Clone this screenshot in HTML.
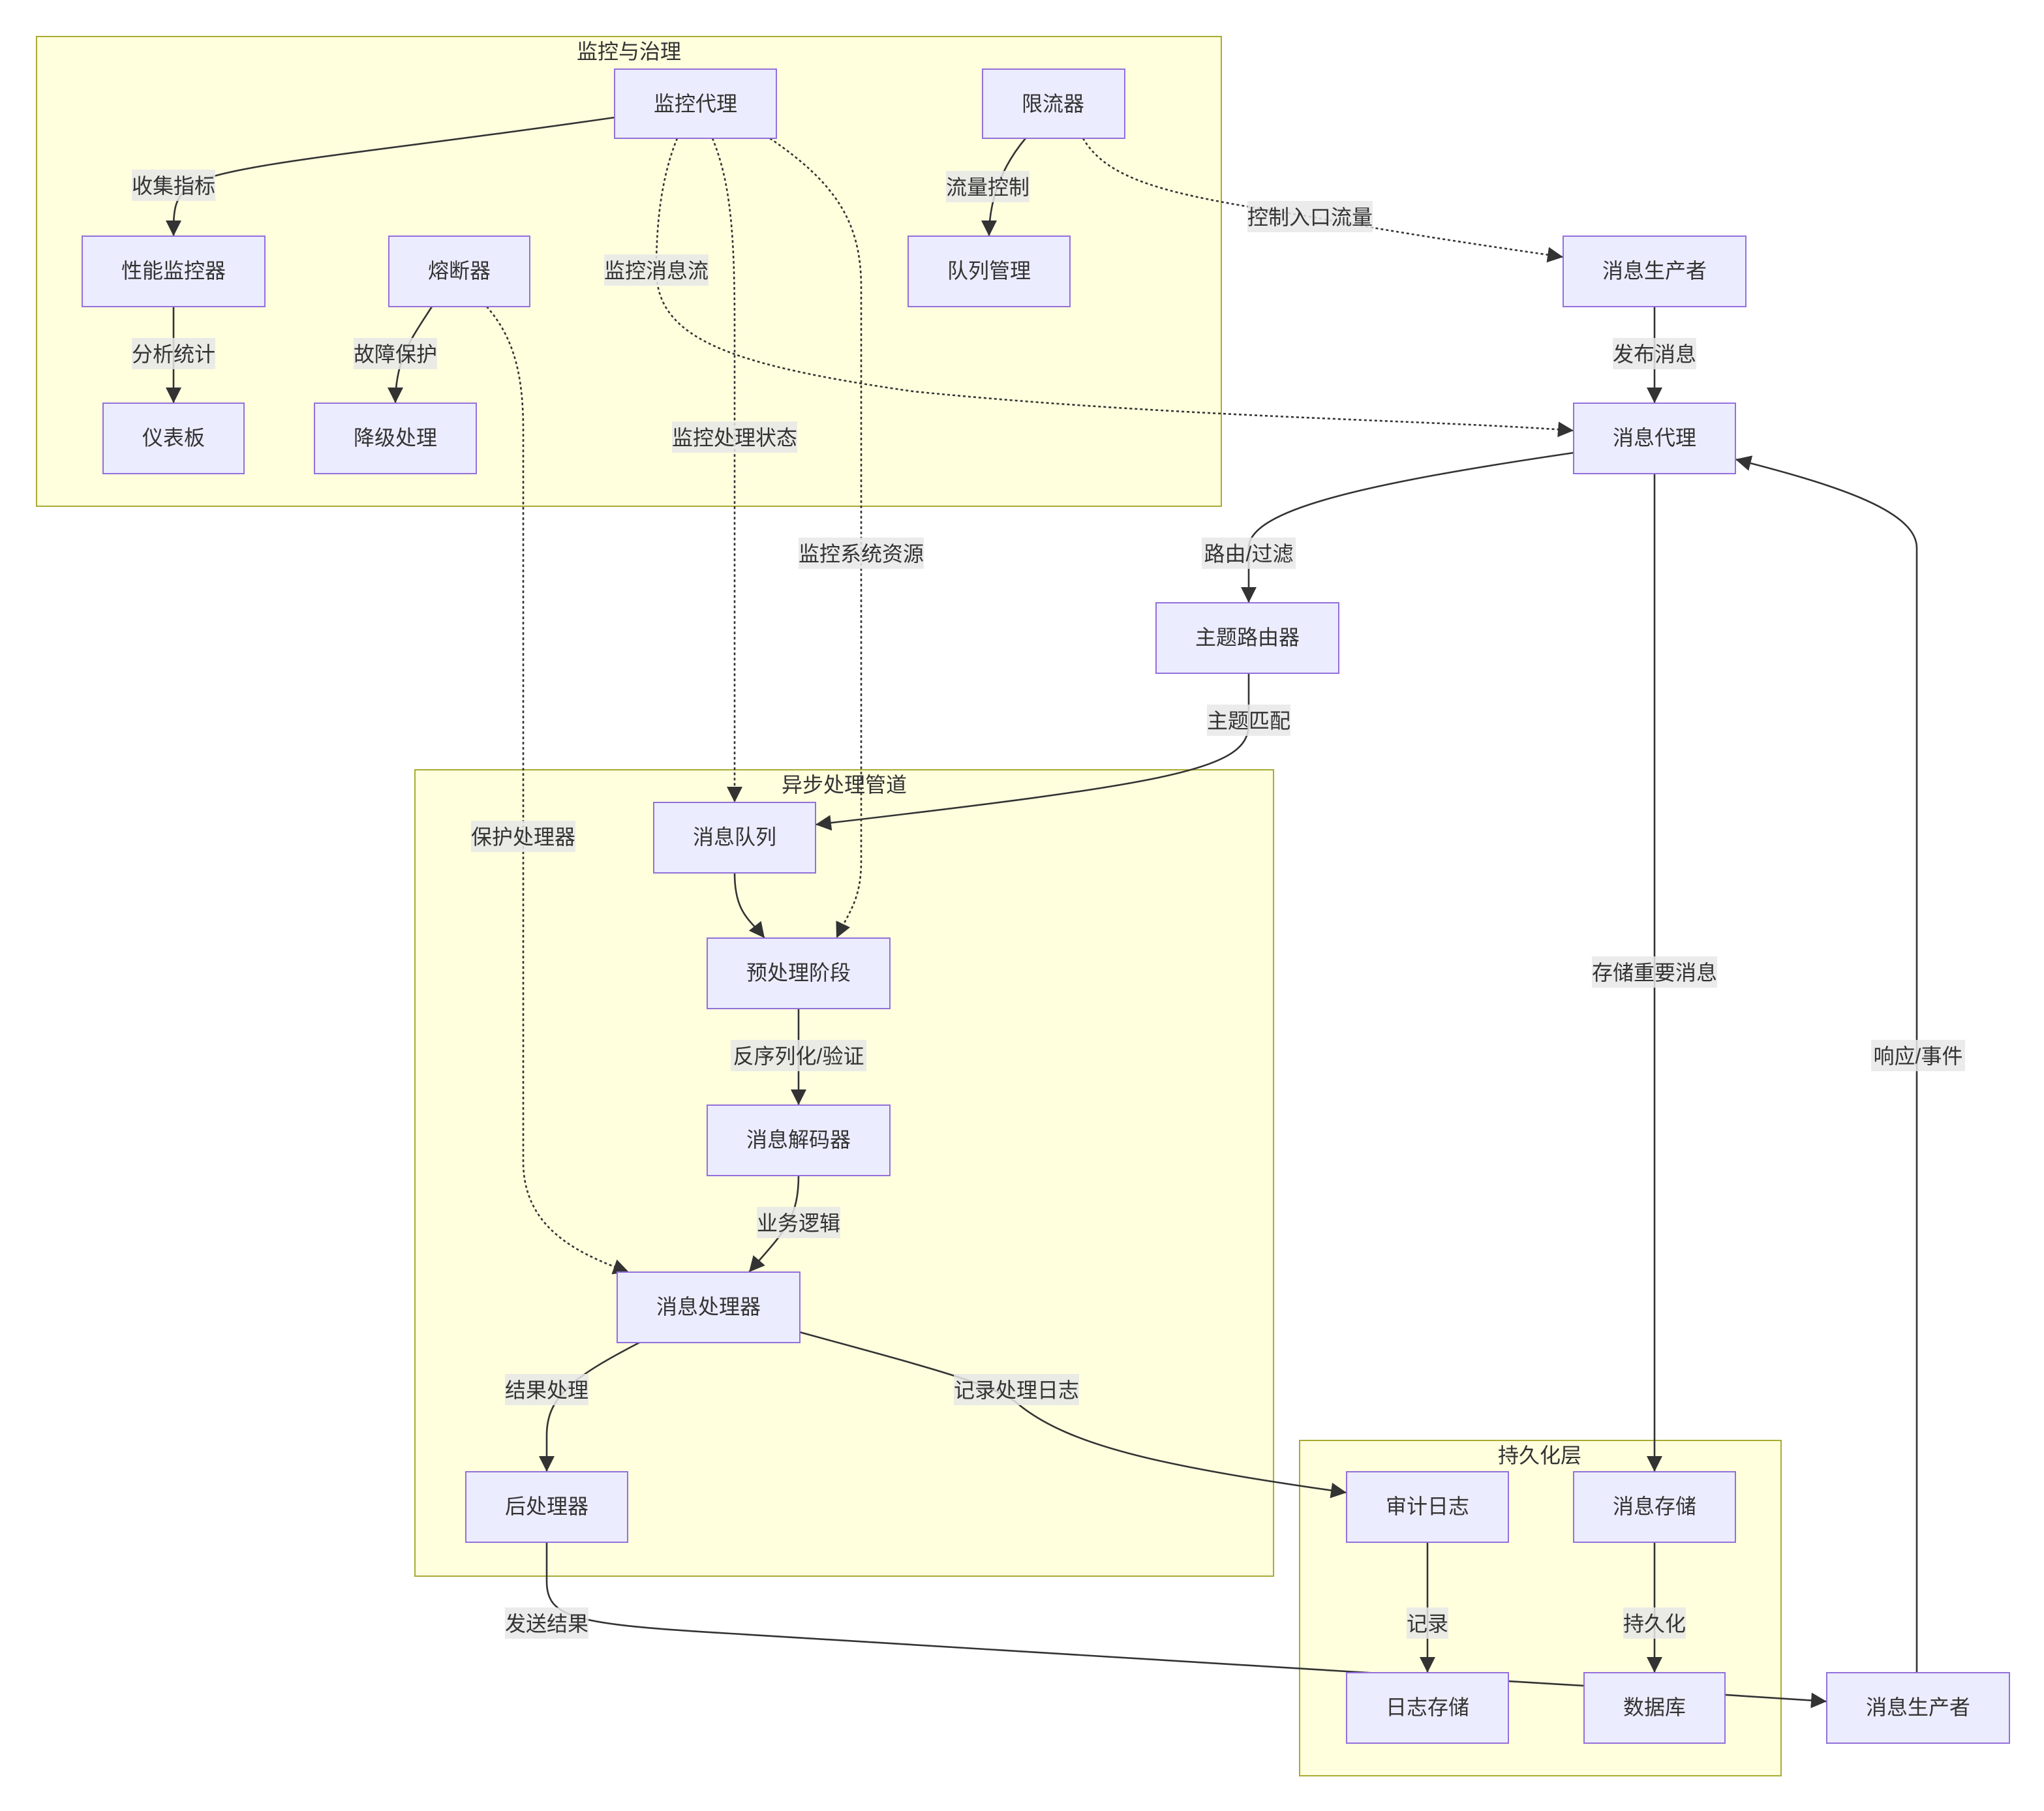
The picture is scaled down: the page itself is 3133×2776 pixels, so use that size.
<!DOCTYPE html>
<html><head><meta charset="utf-8"><style>
html,body{margin:0;padding:0;background:#fff;}
svg{display:block;}
text{font-family:"Liberation Sans","Noto Sans CJK SC",sans-serif;fill:#333;}
</style></head><body>
<svg xmlns="http://www.w3.org/2000/svg" width="3133" height="2776" viewBox="0 0 1566.5 1388">
<defs>
<marker id="a" markerUnits="userSpaceOnUse" markerWidth="12" markerHeight="12" refX="10" refY="5" viewBox="0 0 10 10" orient="auto"><path d="M0,0 L10,5 L0,10 z" fill="#333"/></marker>
</defs>
<rect width="1566.5" height="1388" fill="#fff"/>
<g fill="#ffffde" stroke="#aaaa33" stroke-width="1">
<rect x="28" y="28" width="908" height="360"/>
<rect x="318" y="590" width="658" height="618"/>
<rect x="996" y="1104" width="369" height="257"/>
</g>
<g font-size="16" text-anchor="middle">
<text x="482" y="45">监控与治理</text>
<text x="647" y="607">异步处理管道</text>
<text x="1180" y="1121">持久化层</text>
</g>
<g fill="none" stroke="#333" stroke-width="1.3" marker-end="url(#a)">
<path d="M471,90 C300,115 180,125 150,140 C133,150 133,160 133,181"/>
<path d="M133,235 L133,309"/>
<path d="M331,235 C315,260 303,275 303,309"/>
<path d="M786,106 C770,125 758,150 758,181"/>
<path d="M1268,235 L1268,309"/>
<path d="M1206,347 C1050,370 957,390 957,420 L957,462"/>
<path d="M1268,363 L1268,1128"/>
<path d="M957,516 L957,555 C957,590 900,600 625,632"/>
<path d="M563,669 C563,700 575,705 586,719"/>
<path d="M612,773 L612,847"/>
<path d="M612,901 C612,935 600,945 574,975"/>
<path d="M490,1029 C440,1055 419,1070 419,1100 L419,1128"/>
<path d="M613,1021 C700,1045 760,1060 779,1075 C820,1110 900,1125 1032,1144"/>
<path d="M1094,1182 L1094,1282"/>
<path d="M1268,1182 L1268,1282"/>
<path d="M419,1182 L419,1212 C419,1240 440,1245 560,1252 L1032,1281 L1214,1292 L1400,1304"/>
<path d="M1469,1282 L1469,420 C1469,390 1400,370 1330,352"/>
</g>
<g fill="none" stroke="#333" stroke-width="1.3" stroke-dasharray="2,2" marker-end="url(#a)">
<path d="M830,106 C850,140 900,150 1004,166 C1080,180 1150,190 1198,197"/>
<path d="M519,106 C505,140 503,180 503,207 C503,260 560,280 700,300 C900,320 1100,322 1206,330"/>
<path d="M546,106 C560,140 563,180 563,250 L563,615"/>
<path d="M590,106 C640,140 660,170 660,220 L660,660 C660,690 650,700 641,719"/>
<path d="M373,235 C395,260 401,290 401,330 L401,890 C401,940 440,960 482,975"/>
</g>
<g fill="rgba(232,232,232,0.85)">
<rect x="101" y="130" width="64" height="24"/>
<rect x="101" y="259" width="64" height="24"/>
<rect x="271" y="259" width="64" height="24"/>
<rect x="725" y="131" width="64" height="24"/>
<rect x="956" y="154" width="96" height="24"/>
<rect x="1236" y="259" width="64" height="24"/>
<rect x="463" y="195" width="80" height="24"/>
<rect x="515" y="323" width="96" height="24"/>
<rect x="612" y="412" width="96" height="24"/>
<rect x="361" y="629" width="80" height="24"/>
<rect x="921" y="412" width="72" height="24"/>
<rect x="1220" y="733" width="96" height="24"/>
<rect x="925" y="540" width="64" height="24"/>
<rect x="560" y="797" width="104" height="24"/>
<rect x="580" y="925" width="64" height="24"/>
<rect x="387" y="1053" width="64" height="24"/>
<rect x="731" y="1053" width="96" height="24"/>
<rect x="1078" y="1232" width="32" height="24"/>
<rect x="1244" y="1232" width="48" height="24"/>
<rect x="387" y="1232" width="64" height="24"/>
<rect x="1434" y="797" width="72" height="24"/>
</g>
<g font-size="16" text-anchor="middle">
<text x="133" y="148">收集指标</text>
<text x="133" y="277">分析统计</text>
<text x="303" y="277">故障保护</text>
<text x="757" y="149">流量控制</text>
<text x="1004" y="172">控制入口流量</text>
<text x="1268" y="277">发布消息</text>
<text x="503" y="213">监控消息流</text>
<text x="563" y="341">监控处理状态</text>
<text x="660" y="430">监控系统资源</text>
<text x="401" y="647">保护处理器</text>
<text x="957" y="430">路由/过滤</text>
<text x="1268" y="751">存储重要消息</text>
<text x="957" y="558">主题匹配</text>
<text x="612" y="815">反序列化/验证</text>
<text x="612" y="943">业务逻辑</text>
<text x="419" y="1071">结果处理</text>
<text x="779" y="1071">记录处理日志</text>
<text x="1094" y="1250">记录</text>
<text x="1268" y="1250">持久化</text>
<text x="419" y="1250">发送结果</text>
<text x="1470" y="815">响应/事件</text>
</g>
<g fill="#ECECFF" stroke="#9370DB" stroke-width="1">
<rect x="471" y="53" width="124" height="53"/>
<rect x="753" y="53" width="109" height="53"/>
<rect x="63" y="181" width="140" height="54"/>
<rect x="298" y="181" width="108" height="54"/>
<rect x="696" y="181" width="124" height="54"/>
<rect x="1198" y="181" width="140" height="54"/>
<rect x="79" y="309" width="108" height="54"/>
<rect x="241" y="309" width="124" height="54"/>
<rect x="1206" y="309" width="124" height="54"/>
<rect x="886" y="462" width="140" height="54"/>
<rect x="501" y="615" width="124" height="54"/>
<rect x="542" y="719" width="140" height="54"/>
<rect x="542" y="847" width="140" height="54"/>
<rect x="473" y="975" width="140" height="54"/>
<rect x="357" y="1128" width="124" height="54"/>
<rect x="1032" y="1128" width="124" height="54"/>
<rect x="1206" y="1128" width="124" height="54"/>
<rect x="1032" y="1282" width="124" height="54"/>
<rect x="1214" y="1282" width="108" height="54"/>
<rect x="1400" y="1282" width="140" height="54"/>
</g>
<g font-size="16" text-anchor="middle">
<text x="533" y="85">监控代理</text>
<text x="807" y="85">限流器</text>
<text x="133" y="213">性能监控器</text>
<text x="352" y="213">熔断器</text>
<text x="758" y="213">队列管理</text>
<text x="1268" y="213">消息生产者</text>
<text x="133" y="341">仪表板</text>
<text x="303" y="341">降级处理</text>
<text x="1268" y="341">消息代理</text>
<text x="956" y="494">主题路由器</text>
<text x="563" y="647">消息队列</text>
<text x="612" y="751">预处理阶段</text>
<text x="612" y="879">消息解码器</text>
<text x="543" y="1007">消息处理器</text>
<text x="419" y="1160">后处理器</text>
<text x="1094" y="1160">审计日志</text>
<text x="1268" y="1160">消息存储</text>
<text x="1094" y="1314">日志存储</text>
<text x="1268" y="1314">数据库</text>
<text x="1470" y="1314">消息生产者</text>
</g>
</svg>
</body></html>
